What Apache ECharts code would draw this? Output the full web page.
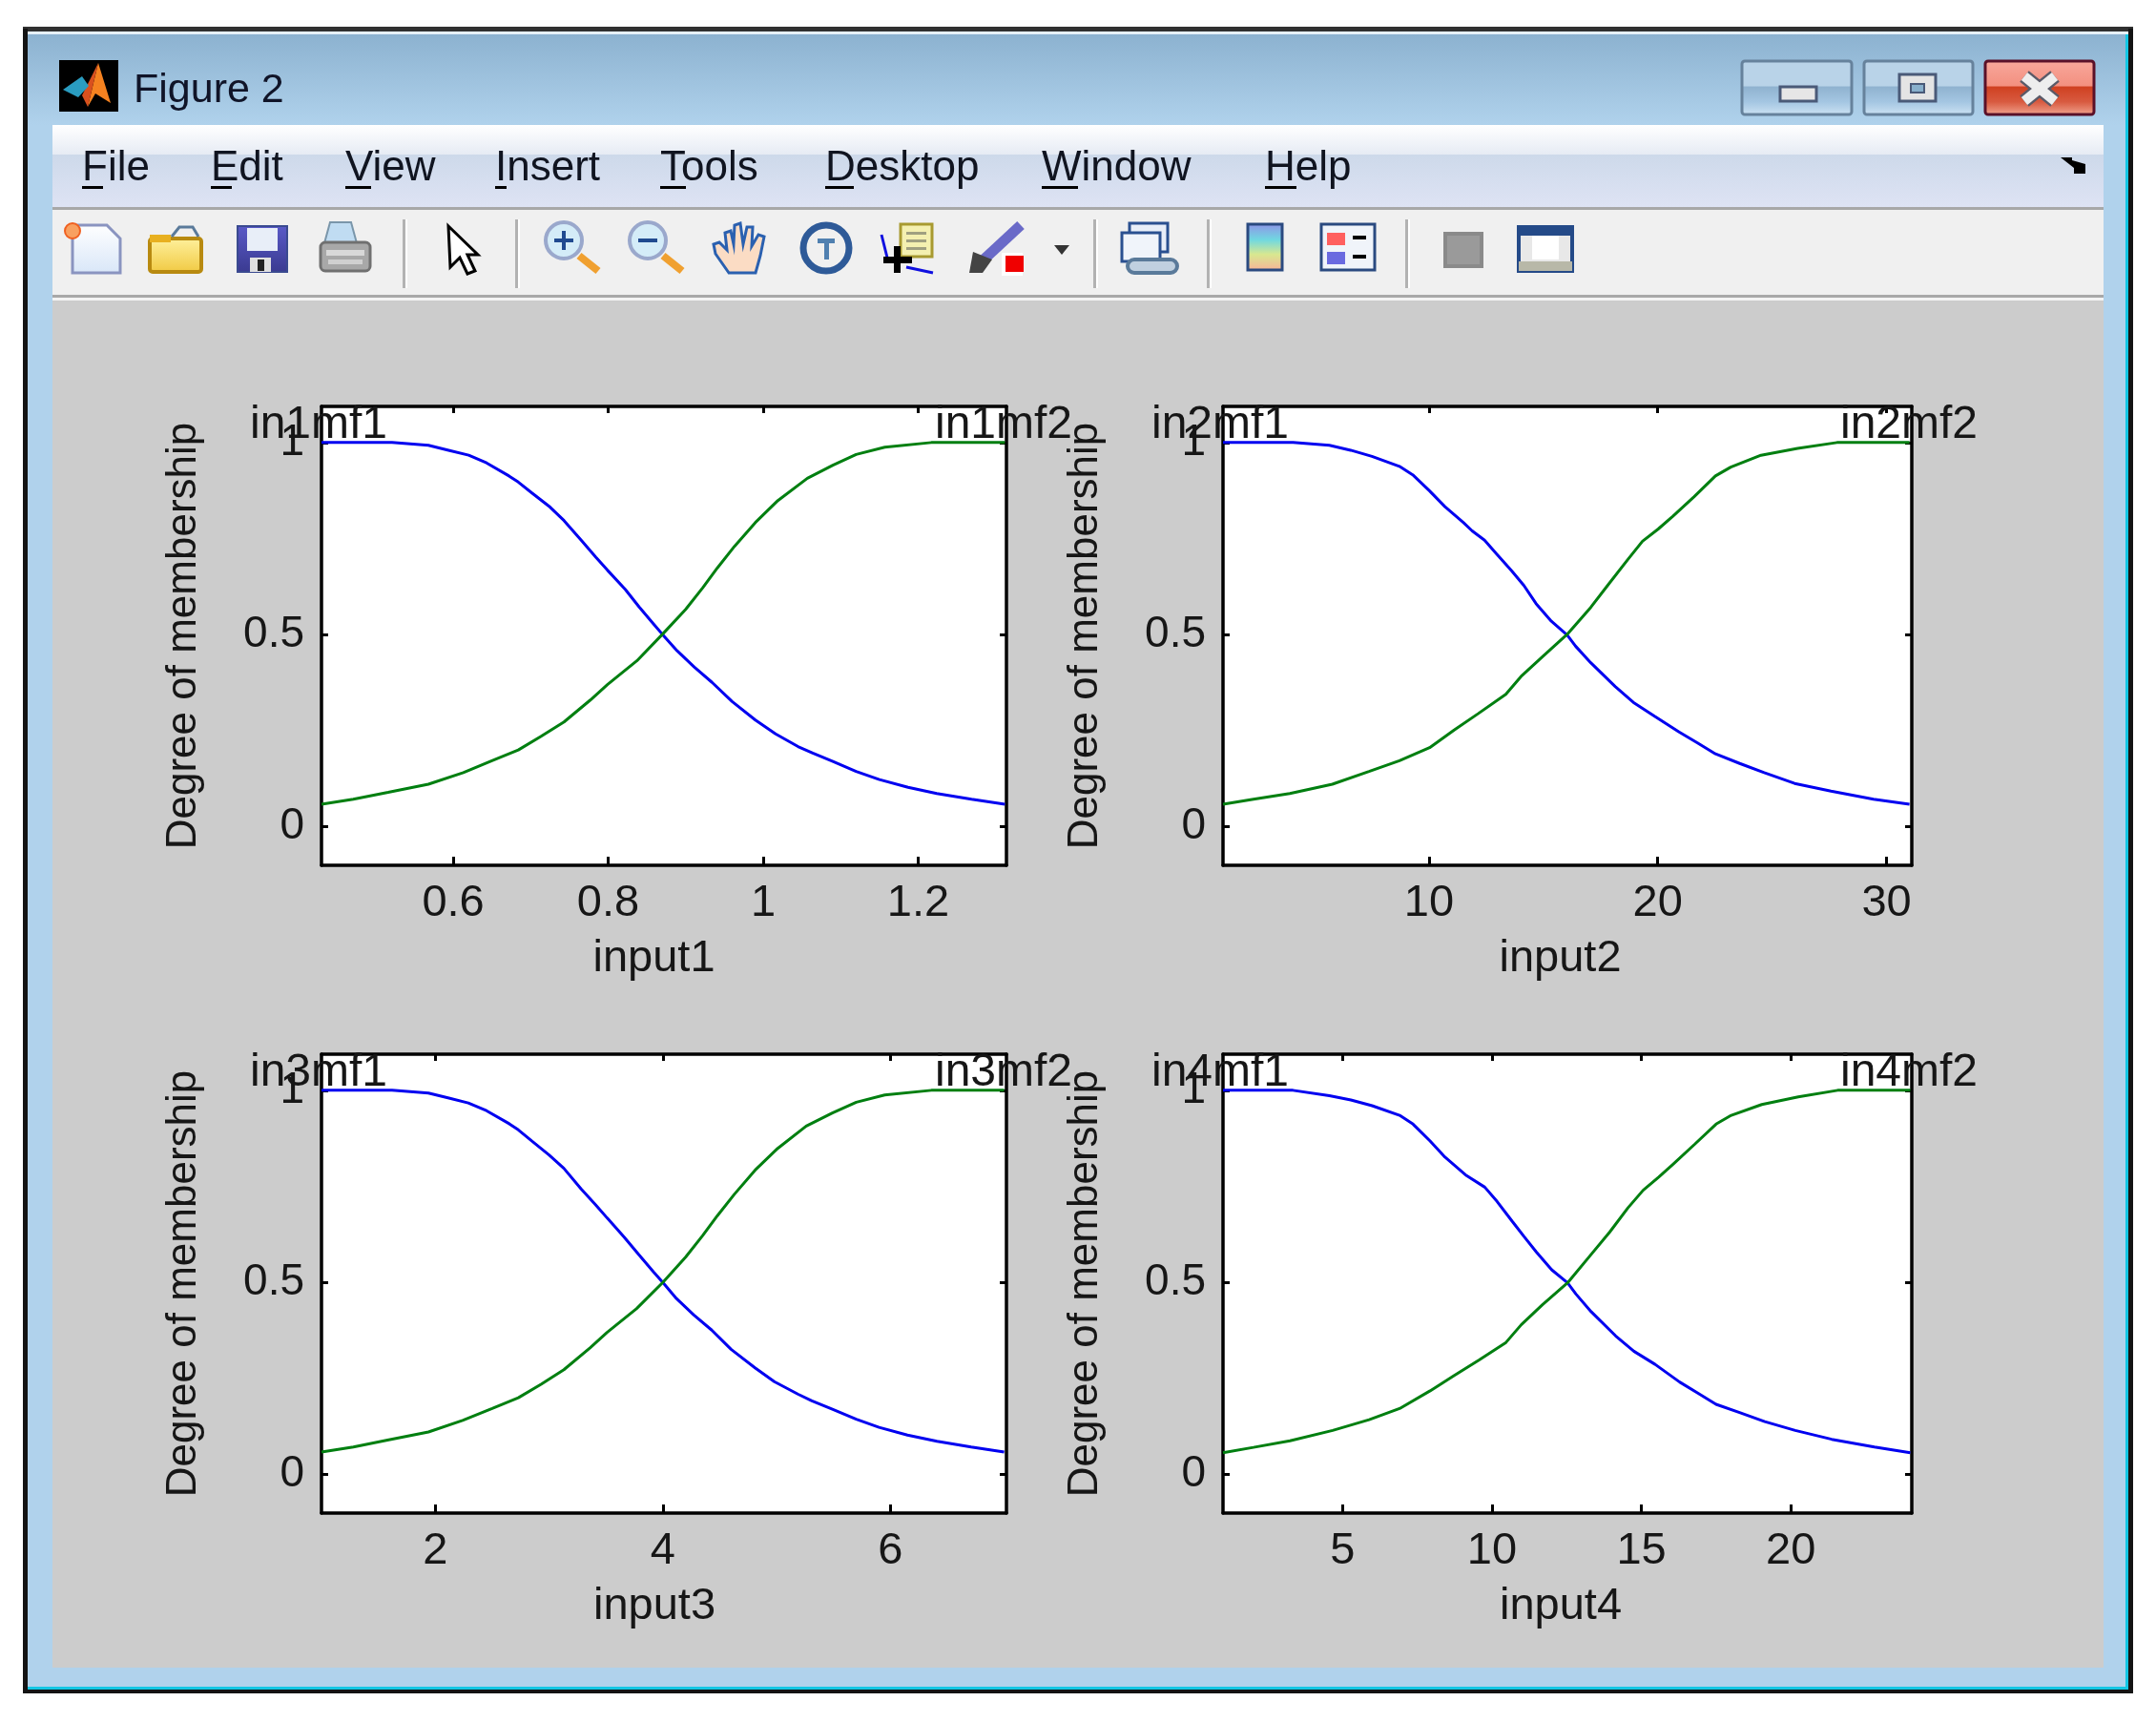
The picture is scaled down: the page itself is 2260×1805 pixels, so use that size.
<!DOCTYPE html>
<html>
<head>
<meta charset="utf-8">
<title>Figure 2</title>
<script src="https://cdn.jsdelivr.net/npm/echarts@6/dist/echarts.min.js"></script>
<style>
html, body { margin: 0; padding: 0; background: #fff; }
#main { width: 2260px; height: 1805px; }
</style>
</head>
<body>
<div id="main"></div>
<script>
var menuItems = ['File', 'Edit', 'View', 'Insert', 'Tools', 'Desktop', 'Window', 'Help'];
var yTicks = [0, 0.5, 1];

var input1Range = [0.43, 1.314];
var input1Ticks = [0.6, 0.8, 1, 1.2];
var in1mf1X = [0.43, 0.521, 0.568, 0.594, 0.62, 0.643, 0.672, 0.684, 0.702, 0.725, 0.743, 0.766, 0.784, 0.799, 0.822, 0.84, 0.859, 0.87, 0.889, 0.911, 0.934, 0.96, 0.99, 1.016, 1.045, 1.064, 1.09, 1.12, 1.15, 1.187, 1.224, 1.269, 1.312];
var in1mf1Y = [1, 1, 0.993, 0.98, 0.967, 0.947, 0.913, 0.897, 0.868, 0.832, 0.797, 0.744, 0.702, 0.668, 0.618, 0.572, 0.527, 0.501, 0.458, 0.416, 0.376, 0.326, 0.278, 0.242, 0.209, 0.192, 0.17, 0.144, 0.123, 0.103, 0.087, 0.072, 0.059];
var in1mf2X = [0.43, 0.471, 0.516, 0.568, 0.613, 0.65, 0.684, 0.713, 0.743, 0.777, 0.799, 0.837, 0.87, 0.9, 0.922, 0.941, 0.963, 0.99, 1.019, 1.057, 1.09, 1.12, 1.157, 1.217, 1.312];
var in1mf2Y = [0.059, 0.072, 0.09, 0.111, 0.141, 0.172, 0.2, 0.235, 0.273, 0.33, 0.37, 0.432, 0.501, 0.566, 0.622, 0.674, 0.73, 0.792, 0.849, 0.907, 0.941, 0.969, 0.988, 1, 1];

var input2Range = [1, 31.1];
var input2Ticks = [10, 20, 30];
var in2mf1X = [1, 4.06, 5.65, 6.58, 7.51, 8.71, 9.29, 10.03, 10.7, 11.5, 11.89, 12.43, 12.96, 13.62, 14.15, 14.68, 15.35, 16.04, 16.41, 17.07, 18.14, 18.93, 19.86, 20.93, 21.72, 22.52, 23.58, 24.65, 25.98, 27.57, 29.43, 31];
var in2mf1Y = [1, 1, 0.993, 0.98, 0.964, 0.938, 0.916, 0.874, 0.833, 0.792, 0.77, 0.746, 0.71, 0.666, 0.628, 0.581, 0.535, 0.499, 0.47, 0.427, 0.365, 0.324, 0.288, 0.247, 0.219, 0.19, 0.165, 0.141, 0.113, 0.093, 0.072, 0.059];
var in2mf2X = [1, 2.33, 3.92, 5.78, 7.38, 8.71, 10.03, 11.1, 12.16, 13.36, 14.02, 14.95, 16.04, 17.07, 17.87, 18.67, 19.33, 20.02, 20.66, 21.59, 22.52, 23.19, 24.51, 26.11, 27.83, 31];
var in2mf2Y = [0.059, 0.072, 0.087, 0.111, 0.144, 0.172, 0.206, 0.252, 0.295, 0.345, 0.391, 0.442, 0.501, 0.571, 0.633, 0.694, 0.743, 0.775, 0.808, 0.859, 0.913, 0.936, 0.967, 0.985, 1, 1];

var input3Range = [1, 7.02];
var input3Ticks = [2, 4, 6];
var in3mf1X = [1, 1.62, 1.94, 2.12, 2.29, 2.45, 2.65, 2.73, 2.85, 3, 3.13, 3.28, 3.41, 3.51, 3.66, 3.79, 3.92, 4, 4.12, 4.27, 4.43, 4.6, 4.81, 4.98, 5.19, 5.31, 5.49, 5.7, 5.9, 6.15, 6.41, 6.71, 7];
var in3mf1Y = [1, 1, 0.993, 0.98, 0.967, 0.947, 0.913, 0.897, 0.868, 0.832, 0.797, 0.744, 0.702, 0.668, 0.618, 0.572, 0.527, 0.5, 0.458, 0.416, 0.376, 0.326, 0.278, 0.242, 0.209, 0.192, 0.17, 0.144, 0.123, 0.103, 0.087, 0.072, 0.059];
var in3mf2X = [1, 1.28, 1.58, 1.94, 2.24, 2.5, 2.73, 2.93, 3.13, 3.36, 3.51, 3.77, 4, 4.2, 4.35, 4.48, 4.63, 4.81, 5.01, 5.26, 5.49, 5.7, 5.95, 6.36, 7];
var in3mf2Y = [0.059, 0.072, 0.09, 0.111, 0.141, 0.172, 0.2, 0.235, 0.273, 0.33, 0.37, 0.432, 0.5, 0.566, 0.622, 0.674, 0.73, 0.792, 0.849, 0.907, 0.941, 0.969, 0.988, 1, 1];

var input4Range = [1, 24.05];
var input4Ticks = [5, 10, 15, 20];
var in4mf1X = [1, 3.34, 4.56, 5.28, 5.99, 6.91, 7.36, 7.93, 8.43, 9.15, 9.76, 10.17, 10.68, 11.08, 11.49, 12, 12.53, 12.81, 13.32, 14.14, 14.75, 15.46, 16.28, 16.89, 17.5, 18.31, 19.13, 20.15, 21.37, 22.8, 24];
var in4mf1Y = [1, 1, 0.986, 0.975, 0.96, 0.935, 0.912, 0.868, 0.826, 0.778, 0.748, 0.711, 0.659, 0.619, 0.579, 0.533, 0.499, 0.47, 0.424, 0.361, 0.321, 0.287, 0.241, 0.212, 0.183, 0.161, 0.138, 0.115, 0.092, 0.072, 0.057];
var in4mf2X = [1, 2.02, 3.24, 4.67, 5.89, 6.91, 7.93, 8.74, 9.56, 10.47, 10.98, 11.69, 12.53, 13.32, 13.94, 14.55, 15.06, 15.58, 16.07, 16.79, 17.5, 18.01, 19.03, 20.25, 21.57, 24];
var in4mf2Y = [0.057, 0.071, 0.088, 0.115, 0.143, 0.172, 0.218, 0.258, 0.298, 0.344, 0.39, 0.442, 0.499, 0.573, 0.631, 0.694, 0.74, 0.774, 0.808, 0.86, 0.912, 0.935, 0.963, 0.983, 1, 1];

var FONT = '"Liberation Sans", Arial, sans-serif';
var TEXT_COLOR = '#161616';

// one entry per subplot
var panels = [
    {name: 'input1', left: 337, top: 426, width: 718, range: input1Range, ticks: input1Ticks, mf1: 'in1mf1', mf2: 'in1mf2', x1: in1mf1X, y1: in1mf1Y, x2: in1mf2X, y2: in1mf2Y, shift: 21},
    {name: 'input2', left: 1282, top: 426, width: 722, range: input2Range, ticks: input2Ticks, mf1: 'in2mf1', mf2: 'in2mf2', x1: in2mf1X, y1: in2mf1Y, x2: in2mf2X, y2: in2mf2Y, shift: 15},
    {name: 'input3', left: 337, top: 1105, width: 718, range: input3Range, ticks: input3Ticks, mf1: 'in3mf1', mf2: 'in3mf2', x1: in3mf1X, y1: in3mf1Y, x2: in3mf2X, y2: in3mf2Y, shift: 20},
    {name: 'input4', left: 1282, top: 1105, width: 722, range: input4Range, ticks: input4Ticks, mf1: 'in4mf1', mf2: 'in4mf2', x1: in4mf1X, y1: in4mf1Y, x2: in4mf2X, y2: in4mf2Y, shift: 14}
];

function zip(xs, ys) {
    var out = [];
    for (var i = 0; i < xs.length; i++) {
        out.push([xs[i], ys[i]]);
    }
    return out;
}

// ---- window chrome helpers ----
var chrome = [];
function rect(x, y, w, h, fill, stroke, lw, r) {
    chrome.push({type: 'rect', shape: {x: x, y: y, width: w, height: h, r: r || 0},
        style: {fill: fill || 'none', stroke: stroke || 'none', lineWidth: lw || 0}, z: -10, z2: chrome.length, silent: true});
}
function poly(points, fill, stroke, lw) {
    chrome.push({type: 'polygon', shape: {points: points},
        style: {fill: fill || 'none', stroke: stroke || 'none', lineWidth: lw || 0}, z: -10, z2: chrome.length, silent: true});
}
function line(points, stroke, lw) {
    chrome.push({type: 'polyline', shape: {points: points},
        style: {fill: 'none', stroke: stroke, lineWidth: lw}, z: -10, z2: chrome.length, silent: true});
}
function circle(cx, cy, r, fill, stroke, lw) {
    chrome.push({type: 'circle', shape: {cx: cx, cy: cy, r: r},
        style: {fill: fill || 'none', stroke: stroke || 'none', lineWidth: lw || 0}, z: -10, z2: chrome.length, silent: true});
}
function label(s, x, y, size, color) {
    // y is the middle of the text box
    chrome.push({type: 'text', x: x, y: y,
        style: {text: s, font: size + 'px ' + FONT, fill: color, verticalAlign: 'middle'},
        z: -10, z2: chrome.length, silent: true});
}
function vgrad(stops) {
    var cs = [];
    for (var i = 0; i < stops.length; i++) {
        cs.push({offset: stops[i][0], color: stops[i][1]});
    }
    return {type: 'linear', x: 0, y: 0, x2: 0, y2: 1, colorStops: cs};
}

function drawWindow() {
    // frame
    rect(24, 28, 2212, 1747, '#b0d2ec', null, 0, 6);
    rect(24, 28, 2212, 5, '#303030');
    rect(24, 33, 2212, 3, '#e6f0f8');
    rect(24, 36, 2212, 95, vgrad([[0, '#8cb2d0'], [1, '#b0d2ec']]));
    rect(24, 30, 5, 1745, '#141414');
    rect(2231, 30, 5, 1745, '#141414');
    rect(2228, 36, 3, 1735, '#12c6e4');
    rect(24, 1771, 2212, 4, '#141414');
    rect(29, 1768, 2202, 3, '#12c6e4');

    // title bar
    rect(62, 63, 62, 54, '#000');
    poly([[103, 66], [116, 108], [100, 98], [92, 112]], '#f58220');
    poly([[103, 66], [92, 112], [86, 100]], '#d9501e');
    poly([[86, 80], [66, 94], [82, 102], [93, 90]], '#2a9cc0');
    label('Figure 2', 140, 95, 43, '#101428');

    // min / max / close buttons
    var btnGrad = vgrad([[0, '#b9d3e8'], [0.47, '#b9d3e8'], [0.48, '#8fb2cf'], [0.75, '#a4c6e2'], [1, '#cfe4f4']]);
    rect(1826, 64, 115, 56, btnGrad, '#66829c', 3, 3);
    rect(1954, 64, 114, 56, btnGrad, '#66829c', 3, 3);
    rect(2081, 64, 114, 56, vgrad([[0, '#f8a89c'], [0.47, '#f39080'], [0.48, '#cf4020'], [0.75, '#d85a40'], [1, '#f2a894']]), '#5a1028', 3, 3);
    rect(1866, 91, 38, 15, '#e6e6e6', '#4a5a78', 3);
    rect(1991, 78, 38, 28, '#e4e4e4', '#4a5a78', 3);
    rect(2003, 88, 14, 9, '#88b0cc', '#4a5a78', 2);
    line([[2122, 80], [2154, 106]], '#5a5a68', 15);
    line([[2154, 80], [2122, 106]], '#5a5a68', 15);
    line([[2122, 80], [2154, 106]], '#eeeeee', 10);
    line([[2154, 80], [2122, 106]], '#eeeeee', 10);

    // menu bar
    rect(55, 131, 2150, 31, vgrad([[0, '#ffffff'], [1, '#e6ebf4']]));
    rect(55, 162, 2150, 55, vgrad([[0, '#cdd9ea'], [1, '#dee3f4']]));
    rect(55, 217, 2150, 3, '#a8a8a8');
    var menuX = [86, 221, 362, 519, 692, 865, 1092, 1326];
    var underW = [22, 22, 27, 12, 27, 30, 38, 33];
    for (var i = 0; i < menuItems.length; i++) {
        label(menuItems[i], menuX[i], 177, 44, '#101420');
        rect(menuX[i], 195, underW[i], 3, '#000');
    }
    poly([[2160, 165], [2172, 165], [2172, 168], [2186, 172], [2186, 182], [2174, 182], [2174, 176]], '#000');

    // toolbar
    rect(55, 220, 2150, 89, '#f0f0f0');
    rect(55, 309, 2150, 3, '#a8a8a8');
    rect(55, 312, 2150, 3, '#f4f4f4');
    var seps = [422, 540, 1146, 1265, 1473];
    for (var j = 0; j < seps.length; j++) {
        rect(seps[j], 230, 3, 72, '#b2b2b2');
        rect(seps[j] + 3, 230, 2, 72, '#ffffff');
    }

    // figure background
    rect(55, 315, 2150, 1433, '#cccccc');

    drawIcons();
}

function drawIcons() {
    // new
    poly([[76, 236], [112, 236], [126, 250], [126, 286], [76, 286]], vgrad([[0, '#ffffff'], [1, '#d8e6f8']]), '#8a94c0', 3);
    circle(76, 242, 8, '#f8a060', '#f06020', 2);
    // open
    rect(157, 250, 54, 35, vgrad([[0, '#fff2a0'], [1, '#f0c840']]), '#b88a10', 4, 3);
    rect(157, 246, 22, 8, '#e8b020');
    line([[180, 248], [188, 238], [202, 238], [208, 248]], '#5a7a9a', 3);
    // save
    rect(249, 237, 52, 48, vgrad([[0, '#5a5ac8'], [1, '#3a3a90']]), '#3a4a90', 2);
    rect(259, 239, 32, 24, '#e8eef8');
    rect(262, 270, 22, 15, '#e0e0e0');
    rect(270, 272, 7, 12, '#222');
    // print
    poly([[346, 233], [368, 233], [374, 255], [340, 255]], '#c0dcf2', '#7a96aa', 2);
    rect(336, 254, 52, 30, '#a8a8a8', '#707070', 3, 5);
    rect(342, 262, 40, 6, '#d8d8d8');
    rect(344, 272, 36, 5, '#d0d0d0');
    // pointer
    poly([[470, 237], [501, 267], [490, 267], [498, 284], [490, 287], [482, 270], [472, 280]], '#ffffff', '#000', 3);
    // zoom in / out
    line([[607, 268], [627, 284]], '#f0a030', 8);
    circle(591, 252, 19, '#d4ecf8', '#9aa8cc', 4);
    rect(581, 250, 20, 4, '#204a90');
    rect(589, 242, 4, 20, '#204a90');
    line([[695, 268], [715, 284]], '#f0a030', 8);
    circle(679, 252, 19, '#d4ecf8', '#9aa8cc', 4);
    rect(669, 250, 20, 4, '#204a90');
    // hand
    poly([[764, 286], [750, 266], [748, 256], [754, 254], [762, 262], [760, 244], [766, 242], [769, 256], [770, 236], [776, 234], [779, 256], [783, 238], [789, 238], [788, 258], [795, 246], [801, 248], [797, 268], [792, 286]], '#fbdcc4', '#2a60b0', 3);
    // rotate
    circle(866, 260, 24, '#f0f0f0', '#2e5a98', 7);
    rect(857, 250, 18, 5, '#5080b0');
    rect(864, 250, 5, 22, '#5080b0');
    // data cursor
    rect(944, 235, 33, 34, '#f4f0b0', '#a89a30', 3);
    rect(950, 243, 21, 3, '#a0a080');
    rect(950, 251, 21, 3, '#a0a080');
    rect(950, 259, 21, 3, '#a0a080');
    line([[924, 246], [930, 270]], '#1010e0', 3);
    rect(926, 269, 30, 7, '#000');
    rect(937, 258, 7, 28, '#000');
    line([[950, 280], [978, 286]], '#1010e0', 3);
    // brush
    line([[1028, 275], [1070, 236]], '#6a6ac8', 11);
    poly([[1020, 264], [1040, 272], [1030, 286], [1016, 286]], '#444');
    rect(1050, 265, 22, 24, '#ffffff');
    rect(1054, 268, 19, 17, '#f00000');
    // drop down
    poly([[1105, 257], [1121, 257], [1113, 267]], '#333');
    // link
    rect(1184, 234, 40, 30, '#e8eef8', '#2a5090', 3);
    rect(1176, 244, 40, 30, '#f0f4fa', '#2a5090', 3);
    rect(1182, 272, 52, 14, '#c0d0e0', '#5a7a9a', 4, 7);
    // colorbar
    rect(1308, 235, 36, 48, vgrad([[0, '#9090e8'], [0.35, '#70d8e0'], [0.65, '#d8e890'], [1, '#fab098']]), '#2a4a80', 3);
    // legend
    rect(1385, 235, 56, 48, '#f0f4fa', '#2a4a80', 3);
    rect(1391, 244, 19, 13, '#ff6060');
    rect(1391, 264, 19, 13, '#6a6ae0');
    rect(1418, 247, 14, 4, '#000');
    rect(1418, 267, 14, 4, '#000');
    // toggle boxes
    rect(1515, 245, 38, 34, '#9a9a9a', '#8a8a8a', 4);
    rect(1592, 238, 56, 46, '#e8e8e8', '#244a88', 4);
    rect(1592, 238, 56, 9, '#244a88');
    rect(1606, 247, 28, 25, '#ffffff');
    rect(1592, 274, 56, 10, '#b8b8a8');
}

drawWindow();

// ---- subplots ----
var grids = [], xAxes = [], yAxes = [], series = [];
var PLOT_H = 481;

function axisLineStyle() {
    return {show: true, onZero: false, lineStyle: {color: '#000', width: 3.5}};
}
function tickStyle(values, len) {
    return {show: true, inside: true, length: len, customValues: values, lineStyle: {color: '#000', width: 3}};
}

panels.forEach(function (p, i) {
    grids.push({left: p.left, top: p.top, width: p.width, height: PLOT_H, show: true,
        backgroundColor: '#fff', borderWidth: 0, containLabel: false});

    xAxes.push({
        type: 'value', gridIndex: i, position: 'bottom', min: p.range[0], max: p.range[1],
        name: p.name, nameLocation: 'middle', nameGap: 75,
        nameTextStyle: {fontFamily: FONT, fontSize: 47, color: TEXT_COLOR, padding: [0, p.shift, 0, 0]},
        axisLine: axisLineStyle(), axisTick: tickStyle(p.ticks, 9), splitLine: {show: false},
        axisLabel: {show: true, customValues: p.ticks, margin: 17, fontFamily: FONT, fontSize: 47, color: TEXT_COLOR}
    });
    xAxes.push({
        type: 'value', gridIndex: i, position: 'top', min: p.range[0], max: p.range[1],
        axisLine: axisLineStyle(), axisTick: tickStyle(p.ticks, 7), splitLine: {show: false}, axisLabel: {show: false}
    });
    yAxes.push({
        type: 'value', gridIndex: i, position: 'left', min: -0.1, max: 1.094,
        name: 'Degree of membership', nameLocation: 'middle', nameGap: 122,
        nameTextStyle: {fontFamily: FONT, fontSize: 44, color: TEXT_COLOR},
        axisLine: axisLineStyle(), axisTick: tickStyle(yTicks, 7), splitLine: {show: false},
        axisLabel: {show: true, customValues: yTicks, margin: 18, fontFamily: FONT, fontSize: 46, color: TEXT_COLOR}
    });
    yAxes.push({
        type: 'value', gridIndex: i, position: 'right', min: -0.1, max: 1.094,
        axisLine: axisLineStyle(), axisTick: tickStyle(yTicks, 7), splitLine: {show: false}, axisLabel: {show: false}
    });

    var xi = i * 2, yi = i * 2;
    series.push({type: 'line', name: p.mf1, xAxisIndex: xi, yAxisIndex: yi, data: zip(p.x1, p.y1),
        showSymbol: false, symbol: 'none', lineStyle: {color: '#0000f0', width: 3}, itemStyle: {color: '#0000f0'}, animation: false, z: 3});
    series.push({type: 'line', name: p.mf2, xAxisIndex: xi, yAxisIndex: yi, data: zip(p.x2, p.y2),
        showSymbol: false, symbol: 'none', lineStyle: {color: '#007f10', width: 3}, itemStyle: {color: '#007f10'}, animation: false, z: 4});
    // mf names sit on the plot edges, straddling the frame
    series.push({type: 'scatter', xAxisIndex: xi, yAxisIndex: yi, symbolSize: 0, clip: false, animation: false, z: 6,
        itemStyle: {opacity: 1},
        data: [{name: p.mf1, value: [p.range[0], 1.047]}, {name: p.mf2, value: [p.range[1], 1.047]}],
        label: {show: true, position: 'inside', offset: [-3, 1], formatter: '{b}', fontFamily: FONT, fontSize: 48, color: TEXT_COLOR}});
});

var myChart = echarts.init(document.getElementById('main'), null, {renderer: 'canvas'});
var option = {
    animation: false,
    backgroundColor: '#ffffff',
    tooltip: {show: false},
    graphic: {elements: chrome},
    grid: grids,
    xAxis: xAxes,
    yAxis: yAxes,
    series: series
};
myChart.setOption(option);
</script>
</body>
</html>
